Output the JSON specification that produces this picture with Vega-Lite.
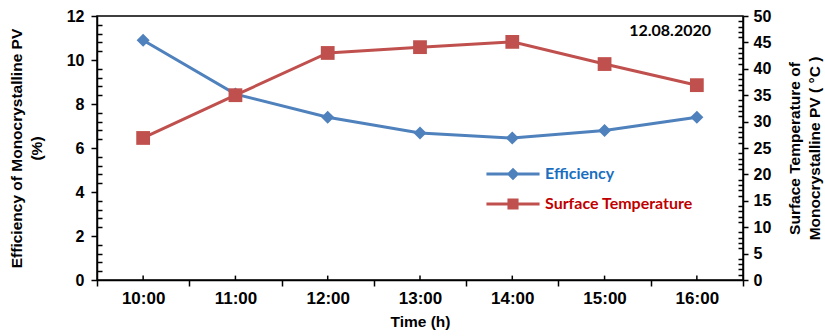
{
  "$schema": "https://vega.github.io/schema/vega-lite/v6.json",
  "width": 646,
  "height": 264,
  "autosize": {"type": "none"},
  "padding": {"left": 97, "top": 16, "right": 82, "bottom": 56},
  "background": "white",
  "config": {
    "view": {"stroke": "black", "strokeWidth": 1.5},
    "axis": {
      "labelFont": "Liberation Sans", "labelFontWeight": "bold", "labelFontSize": 16, "labelColor": "black",
      "titleFont": "Liberation Sans", "titleFontWeight": "bold", "titleFontSize": 15.5, "titleColor": "black", "titleLineHeight": 20,
      "domainColor": "black", "domainWidth": 1.5, "tickColor": "black", "tickWidth": 1.5, "grid": false
    },
    "legend": {
      "title": null, "orient": "none", "legendX": 401, "legendY": 143, "symbolSize": 900,
      "labelFont": "Lato", "labelFontSize": 16, "labelFontWeight": "bold", "labelOffset": 17, "rowPadding": 7
    }
  },
  "title": {"text": "12.08.2020", "anchor": "end", "frame": "group", "orient": "top", "offset": -22, "dx": -32, "dy": 9, "font": "Lato", "fontSize": 16, "fontWeight": "bold", "color": "black"},
  "data": {"values": [
    {"time": "10:00", "eff": 10.9, "temp": 26.9},
    {"time": "11:00", "eff": 8.45, "temp": 35.0},
    {"time": "12:00", "eff": 7.4, "temp": 43.0},
    {"time": "13:00", "eff": 6.68, "temp": 44.1},
    {"time": "14:00", "eff": 6.45, "temp": 45.1},
    {"time": "15:00", "eff": 6.8, "temp": 40.9},
    {"time": "16:00", "eff": 7.4, "temp": 36.9}
  ]},
  "encoding": {
    "x": {"field": "time", "type": "ordinal", "bandPosition": 0.5,
      "scale": {"type": "band", "paddingInner": 0, "paddingOuter": 0},
      "axis": {"title": "Time (h)", "labelAngle": 0, "tickBand": "extent", "tickSize": 6, "labelPadding": 4, "labelFontSize": 17, "titlePadding": 8}}
  },
  "layer": [
    {
      "encoding": {
        "y": {"field": "eff", "type": "quantitative",
          "scale": {"domain": [0, 12], "nice": false},
          "axis": {"orient": "left", "title": ["Efficiency of Monocrystalline PV", "(%)"],
            "values": [0,0.4,0.8,1.2,1.6,2,2.4,2.8,3.2,3.6,4,4.4,4.8,5.2,5.6,6,6.4,6.8,7.2,7.6,8,8.4,8.8,9.2,9.6,10,10.4,10.8,11.2,11.6,12],
            "labelExpr": "datum.value % 2 === 0 ? format(datum.value, 'd') : ''", "labelOverlap": false,
            "tickSize": {"condition": {"test": "datum.value % 2 === 0", "value": 6}, "value": -5},
            "labelPadding": 7, "titlePadding": 22}}
      },
      "layer": [
        {"mark": {"type": "line", "strokeWidth": 3},
          "encoding": {"color": {"datum": "Efficiency",
            "scale": {"domain": ["Efficiency", "Surface Temperature"], "range": ["#4f81bd", "#c0504d"]},
            "legend": {
              "encode": {
                "symbols": {"update": {
                  "shape": {"signal": "datum.value === 'Efficiency' ? 'M-1.77,-0.1H1.77V0.1H-1.77Z M0,-0.42L0.42,0L0,0.42L-0.42,0Z' : 'M-1.77,-0.1H1.77V0.1H-1.77Z M-0.37,-0.37H0.37V0.37H-0.37Z'"},
                  "fill": {"signal": "datum.value === 'Efficiency' ? '#4f81bd' : '#c0504d'"},
                  "stroke": {"value": "transparent"},
                  "strokeWidth": {"value": 0}, "opacity": {"value": 1}, "fillOpacity": {"value": 1}}},
                "labels": {"update": {"fill": {"signal": "datum.value === 'Efficiency' ? '#1a6fbf' : '#c00000'"}}}
              }}}}},
        {"mark": {"type": "point", "filled": true, "shape": "diamond", "size": 170, "opacity": 1},
          "encoding": {"color": {"datum": "Efficiency"}}},
        {"mark": {"type": "rule", "color": "black", "strokeWidth": 1.5},
          "encoding": {"y": {"datum": 0}, "y2": {"datum": 0.2}}}
      ]
    },
    {
      "encoding": {
        "y": {"field": "temp", "type": "quantitative",
          "scale": {"domain": [0, 50], "nice": false},
          "axis": {"orient": "right", "title": ["Surface Temperature of", "Monocrystalline PV ( °C )"], "titleAngle": -90,
            "values": [0,1,2,3,4,5,6,7,8,9,10,11,12,13,14,15,16,17,18,19,20,21,22,23,24,25,26,27,28,29,30,31,32,33,34,35,36,37,38,39,40,41,42,43,44,45,46,47,48,49,50],
            "labelExpr": "datum.value % 5 === 0 ? datum.label : ''", "labelOverlap": false,
            "tickSize": {"condition": {"test": "datum.value % 5 === 0", "value": 5}, "value": -5},
            "labelPadding": 5, "titlePadding": 12}}
      },
      "layer": [
        {"mark": {"type": "line", "strokeWidth": 3}, "encoding": {"color": {"datum": "Surface Temperature"}}},
        {"mark": {"type": "point", "filled": true, "shape": "square", "size": 190, "opacity": 1},
          "encoding": {"color": {"datum": "Surface Temperature"}}}
      ]
    }
  ],
  "resolve": {"scale": {"y": "independent"}}
}
